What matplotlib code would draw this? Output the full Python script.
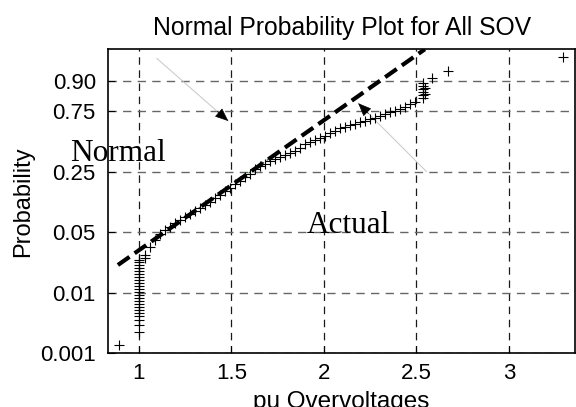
import numpy as np
import matplotlib
matplotlib.use("Agg")
import matplotlib.pyplot as plt

# ---- data ----
# cumulative probability of each sorted overvoltage sample
x_data = [0.892,
          1.0, 1.0, 1.0, 1.0, 1.0, 1.0, 1.0, 1.0, 1.0, 1.0, 1.0, 1.0, 1.0, 1.0, 1.0,
          1.0, 1.0, 1.0, 1.0, 1.0, 1.0, 1.0, 1.0,
          1.032, 1.032, 1.059, 1.086,
          1.114, 1.141, 1.168, 1.195, 1.222, 1.249, 1.276, 1.303, 1.330, 1.357,
          1.384, 1.411, 1.438, 1.465, 1.492, 1.519, 1.546, 1.573, 1.600, 1.627,
          1.654, 1.681, 1.708, 1.735, 1.762, 1.789, 1.816, 1.843, 1.870, 1.897,
          1.924, 1.951, 1.978, 2.005, 2.032, 2.059, 2.086, 2.114, 2.141, 2.168,
          2.195, 2.222, 2.249, 2.276, 2.303, 2.330, 2.357, 2.384, 2.411, 2.438,
          2.465, 2.492,
          2.535, 2.535, 2.535, 2.535, 2.535, 2.535, 2.546, 2.546,
          2.584, 2.670, 3.292]
p_data = [0.00223,
          0.00416, 0.0052, 0.00595, 0.00654, 0.00699, 0.00743, 0.00788, 0.00832,
          0.00877, 0.00921, 0.00966, 0.01048, 0.01244, 0.01444, 0.0164, 0.0184,
          0.02036, 0.02236, 0.02432, 0.02632, 0.02828, 0.03028, 0.0316,
          0.0329, 0.0349, 0.0402, 0.0448,
          0.049, 0.0566, 0.0685, 0.080, 0.0896, 0.0995, 0.109, 0.119, 0.1295, 0.1398,
          0.150, 0.1642, 0.174, 0.1856, 0.197, 0.2088, 0.2203, 0.2319, 0.2434, 0.2673,
          0.2955, 0.316, 0.335, 0.3515, 0.368, 0.3845, 0.401, 0.4215, 0.448, 0.4745,
          0.494, 0.510, 0.5255, 0.5435, 0.565, 0.5865, 0.609, 0.6215, 0.633, 0.645,
          0.6575, 0.670, 0.6825, 0.6955, 0.708, 0.7245, 0.741, 0.752, 0.7593, 0.772,
          0.7827, 0.794,
          0.814, 0.829, 0.8436, 0.8586, 0.8733, 0.8883, 0.835, 0.865,
          0.9077, 0.9285, 0.970]

# fitted normal line end points
fit_x = [0.886, 2.546]
fit_p = [0.0283, 0.99036]
# faint green fit segment hidden beneath the data
green_x = [1.15, 1.72]

x_ticks = [1, 1.5, 2, 2.5, 3]
x_ticklabels = ["1", "1.5", "2", "2.5", "3"]
y_ticks = [0.001, 0.01, 0.05, 0.25, 0.75, 0.90]
y_ticklabels = ["0.001", "0.01", "0.05", "0.25", "0.75", "0.90"]

# probability-paper axis: positions of the probability ticks
P_REF = np.array([0.0001, 0.001, 0.01, 0.05, 0.25, 0.75, 0.90, 0.99, 0.999, 0.99999])
POS_REF = np.array([-1.0, 0.0, 1.0, 2.0, 3.0, 4.0, 4.5, 5.0, 5.5, 6.5])


def fwd(p):
    return np.interp(p, P_REF, POS_REF)


def inv(v):
    return np.interp(v, POS_REF, P_REF)


plt.rcParams['font.family'] = ['Liberation Sans', 'DejaVu Sans']

fig = plt.figure(figsize=(5.76, 4.07), dpi=100)
ax = fig.add_axes([0.188, 0.132, 0.810, 0.747])
ax.set_yscale('function', functions=(fwd, inv))
ax.set_xlim(0.834, 3.357)
ax.set_ylim(0.001, 0.99036)

# grid
for xv in x_ticks:
    ax.axvline(xv, color='0.1', lw=0.9, ls=(0, (6, 4.5)), zorder=1)
for yv in y_ticks:
    ax.axhline(yv, color='0.4', lw=1.0, ls=(0, (6, 4.5)), zorder=1)

# green fit (mostly hidden)
gp = [inv(np.interp(g, fit_x, fwd(np.array(fit_p)))) for g in green_x]
ax.plot(green_x, gp, color='green', lw=0.8, ls=(0, (2, 3)), zorder=2)

# normal line
ax.plot(fit_x, fit_p, color='black', lw=3.0, ls=(0, (3.4, 1.5)), zorder=3,
        solid_capstyle='butt', dash_capstyle='butt')

# data
ax.plot(x_data, p_data, ls='none', marker='+', ms=7, mew=0.8, color='black', zorder=4)

ax.set_xticks(x_ticks)
ax.set_xticklabels(x_ticklabels)
ax.set_yticks(y_ticks)
ax.set_yticklabels(y_ticklabels)
ax.minorticks_off()
ax.tick_params(direction='in', length=5, width=0.8, labelsize=16)
ax.tick_params(axis='y', pad=9)
ax.tick_params(axis='x', pad=7)
for s in ax.spines.values():
    s.set_linewidth(1.2)

ax.set_title("Normal Probability Plot for All SOV", fontsize=17.8, pad=10)
ax.set_xlabel("pu Overvoltages", fontsize=17.5, labelpad=5)
ax.set_ylabel("Probability", fontsize=17, labelpad=4)

# annotations
serif = ['Liberation Serif', 'DejaVu Serif']
ax.text(-0.082, 0.6336, "Normal", transform=ax.transAxes, fontsize=22.5,
        family=serif, ha='left', va='baseline', zorder=5)
ax.text(0.4258, 0.3947, "Actual", transform=ax.transAxes, fontsize=22.5,
        family=serif, ha='left', va='baseline', zorder=5)

arrows = [((0.1037, 0.9704), (0.2571, 0.764)),
          ((0.6822, 0.5974), (0.5357, 0.8224))]
for tail, head in arrows:
    ax.annotate("", xy=head, xytext=tail,
                xycoords='axes fraction', textcoords='axes fraction',
                arrowprops=dict(arrowstyle='-', color='0.78', lw=0.7,
                                shrinkA=0, shrinkB=0))
    hx, hy = head
    tx, ty = tail
    d = np.hypot(tx - hx, ty - hy)
    near = (hx + (tx - hx) * 0.04 / d, hy + (ty - hy) * 0.04 / d)
    ax.annotate("", xy=head, xytext=near,
                xycoords='axes fraction', textcoords='axes fraction',
                arrowprops=dict(arrowstyle='-|>,head_length=0.6,head_width=0.25',
                                color='black', lw=0.5, mutation_scale=14,
                                shrinkA=0, shrinkB=0))

fig.savefig("out.png", dpi=100)
